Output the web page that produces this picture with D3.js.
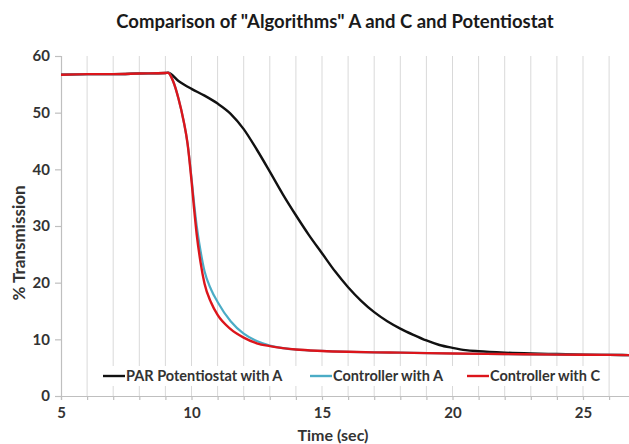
<!DOCTYPE html>
<html>
<head>
<meta charset="utf-8">
<script src="https://cdn.jsdelivr.net/npm/d3@7"></script>
<style>
  body { margin: 0; background: #fff; }
  text { font-family: Lato, "Open Sans", sans-serif; font-weight: bold; }
</style>
</head>
<body>
<div class="chartContainer"></div>
<script>
// ======= data ========
var seriesNames = ["PAR Potentiostat with A", "Controller with A", "Controller with C"];
var seriesColors = ["#111111", "#4bacc6", "#dc151b"];

var timePar = [5, 6, 7, 8, 9, 9.1, 9.5, 10, 10.5, 11, 11.5, 12, 12.5, 13, 13.5, 14, 14.5, 15, 15.5, 16, 16.5, 17, 17.5, 18, 18.5, 19, 19.5, 20, 20.5, 21, 22, 23, 24, 25, 26, 27];
var valuePar = [56.7, 56.8, 56.8, 56.9, 57.0, 57.05, 55.6, 54.2, 53.0, 51.6, 49.8, 47.1, 43.5, 39.6, 35.6, 31.9, 28.4, 25.2, 22.0, 19.2, 16.8, 14.8, 13.2, 11.9, 10.8, 9.8, 9.0, 8.5, 8.1, 7.9, 7.65, 7.5, 7.4, 7.3, 7.25, 7.2];

var timeCtrlA = [5, 6, 7, 8, 9, 9.1, 9.3, 9.5, 9.7, 9.85, 10, 10.1, 10.2, 10.35, 10.5, 10.75, 11, 11.5, 12, 12.5, 13, 13.5, 14, 15, 16, 17, 18, 20, 22, 24, 26, 27];
var valueCtrlA = [56.7, 56.8, 56.8, 56.9, 57.0, 57.05, 55.5, 52.5, 48.5, 44.5, 38.5, 34.0, 30.0, 25.5, 22.0, 18.8, 16.6, 13.2, 11.0, 9.7, 8.9, 8.45, 8.2, 7.95, 7.8, 7.7, 7.65, 7.5, 7.4, 7.3, 7.25, 7.2];

var timeCtrlC = [5, 6, 7, 8, 9, 9.1, 9.3, 9.5, 9.7, 9.85, 10, 10.1, 10.2, 10.35, 10.5, 10.75, 11, 11.5, 12, 12.5, 13, 13.5, 14, 15, 16, 17, 18, 20, 22, 24, 26, 27];
var valueCtrlC = [56.7, 56.8, 56.8, 56.9, 57.0, 57.05, 55.5, 52.5, 48.5, 44.5, 38.0, 33.0, 28.5, 23.5, 19.8, 16.5, 14.3, 11.8, 10.3, 9.3, 8.8, 8.45, 8.2, 7.95, 7.8, 7.7, 7.65, 7.5, 7.4, 7.3, 7.25, 7.2];

var yTicks = [0, 10, 20, 30, 40, 50, 60];
var xTicks = [5, 10, 15, 20, 25];

var width = 629;
var height = 444;

var svg = d3.select(".chartContainer")
  .append("svg")
    .attr("width", width)
    .attr("height", height);

var x = d3.scaleLinear()
    .domain([5, 27])
    .range([61, 61 + 22 * 26.1]);

var y = d3.scaleLinear()
    .domain([0, 60])
    .range([396, 56]);

// ======= grid ========
var gridVals = d3.range(6, 28);
svg.append("g").attr("class", "grid")
  .selectAll("line")
    .data(gridVals)
  .enter().append("line")
    .attr("x1", function(d) { return x(d); })
    .attr("x2", function(d) { return x(d); })
    .attr("y1", y(60))
    .attr("y2", y(0))
    .style("stroke", "#d9d9d9")
    .style("stroke-width", 1);

// ======= axes ========
var xAxis = svg.append("g")
    .attr("transform", "translate(0," + y(0) + ")")
    .call(d3.axisBottom(x).tickValues(d3.range(5, 28)).tickSize(4)
      .tickFormat(function(d) { return xTicks.indexOf(d) >= 0 ? d : ""; }));

var yAxis = svg.append("g")
    .attr("transform", "translate(" + x(5) + ",0)")
    .call(d3.axisLeft(y).tickValues(yTicks).tickSize(6));

[xAxis, yAxis].forEach(function(a) {
  a.select(".domain").style("stroke", "#bfbfbf").style("stroke-width", 1.2);
  a.selectAll(".tick line").style("stroke", "#bfbfbf").style("stroke-width", 1.2);
  a.selectAll(".tick text")
    .style("font-family", "Lato, sans-serif")
    .style("font-weight", "bold")
    .style("font-size", "15px")
    .style("fill", "#333");
});
xAxis.selectAll(".tick text").attr("dy", "1.0em");
yAxis.selectAll(".tick text").attr("x", -11);

// ======= lines ========
var series = [
  { name: seriesNames[0], t: timePar, v: valuePar, color: seriesColors[0], w: 2.4 },
  { name: seriesNames[1], t: timeCtrlA, v: valueCtrlA, color: seriesColors[1], w: 2.2 },
  { name: seriesNames[2], t: timeCtrlC, v: valueCtrlC, color: seriesColors[2], w: 2.4 }
];

var line = d3.line()
    .x(function(d) { return x(d[0]); })
    .y(function(d) { return y(d[1]); })
    .curve(d3.curveMonotoneX);

svg.append("g").attr("class", "lines")
  .selectAll("path")
    .data(series)
  .enter().append("path")
    .attr("d", function(s) { return line(d3.zip(s.t, s.v)); })
    .style("fill", "none")
    .style("stroke", function(s) { return s.color; })
    .style("stroke-width", function(s) { return s.w; });

// ======= legend ========
svg.append("rect")
    .attr("x", 98).attr("y", 366)
    .attr("width", 505).attr("height", 20)
    .style("fill", "#fff");

var legendX = [103, 310, 467];
var legend = svg.append("g").selectAll("g")
    .data(series)
  .enter().append("g")
    .attr("transform", function(d, i) { return "translate(" + legendX[i] + ",376)"; });

legend.append("line")
    .attr("x1", 0).attr("x2", 22)
    .style("stroke", function(d) { return d.color; })
    .style("stroke-width", 2.4);

legend.append("text")
    .attr("x", 23)
    .attr("dy", "0.36em")
    .style("font-size", "14.5px")
    .style("fill", "#333")
    .text(function(d) { return d.name; });

// ======= titles ========
svg.append("text")
    .attr("x", 335).attr("y", 28)
    .attr("text-anchor", "middle")
    .style("font-size", "18.5px")
    .style("fill", "#1a1a1a")
    .text('Comparison of "Algorithms" A and C and Potentiostat');

svg.append("text")
    .attr("x", 333).attr("y", 441)
    .attr("text-anchor", "middle")
    .style("font-size", "16px")
    .style("fill", "#333")
    .text("Time (sec)");

svg.append("text")
    .attr("transform", "translate(25,243) rotate(-90)")
    .attr("text-anchor", "middle")
    .style("font-size", "17px")
    .style("fill", "#333")
    .text("% Transmission");
</script>
</body>
</html>
